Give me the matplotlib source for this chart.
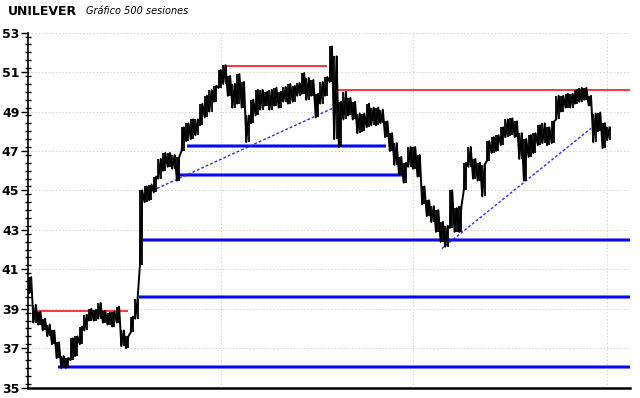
import numpy as np
import matplotlib
matplotlib.use("Agg")
import matplotlib.pyplot as plt
from matplotlib.ticker import MultipleLocator, FixedLocator, NullFormatter

# price samples, one every 4 sessions (low / high of the block)
step = 4
lows = [39.8, 38.3, 38.2, 37.9, 37.6, 37.2, 36.5, 36.0, 36.0, 36.4,
        36.6, 37.2, 37.9, 38.4, 38.4, 38.5, 38.3, 38.2, 38.1, 38.3,
        37.1, 37.0, 37.8, 38.5, 41.2, 44.4, 44.5, 44.9, 45.6, 46.0,
        46.2, 46.1, 45.5, 47.0, 47.5, 47.6, 47.8, 48.3, 48.7, 49.0,
        49.5, 50.2, 50.4, 49.8, 49.2, 49.4, 49.2, 47.45, 48.4, 48.8,
        49.1, 49.3, 49.1, 49.3, 49.2, 49.5, 49.4, 49.5, 49.8, 49.9,
        49.6, 49.8, 48.7, 49.4, 49.8, 50.5, 47.6, 47.2, 48.6, 48.8,
        48.6, 47.9, 48.0, 48.2, 48.3, 48.3, 48.4, 47.7, 47.0, 46.3,
        45.8, 45.4, 46.2, 46.1, 45.7, 44.3, 43.7, 43.4, 42.9, 42.4,
        42.15, 43.1, 42.9, 42.9, 45.0, 46.2, 45.6, 45.5, 44.7, 46.5,
        46.9, 47.0, 47.3, 47.7, 47.8, 47.7, 46.6, 45.5, 46.7, 46.9,
        47.3, 47.4, 47.3, 47.4, 48.6, 49.0, 49.2, 49.2, 49.4, 49.5,
        49.6, 49.3, 47.45, 48.0, 47.15, 47.55]
highs = [40.6, 39.2, 38.85, 38.5, 38.2, 37.9, 37.3, 36.6, 36.5, 37.5,
         37.6, 38.1, 38.7, 39.0, 38.95, 39.3, 38.9, 38.8, 38.85, 39.1,
         37.9, 37.6, 38.6, 39.5, 45.0, 45.2, 45.3, 45.7, 46.6, 46.9,
         46.9, 46.8, 46.7, 48.2, 48.4, 48.6, 48.6, 49.4, 49.8, 50.1,
         50.3, 51.1, 51.35, 50.8, 50.4, 50.9, 50.5, 48.8, 49.6, 50.1,
         50.1, 50.0, 50.1, 50.2, 50.0, 50.25, 50.4, 50.3, 50.45, 50.95,
         50.7, 50.6, 49.9, 50.5, 50.75, 52.3, 51.8, 49.5, 50.0, 49.7,
         49.5, 48.9, 48.9, 49.4, 49.2, 49.2, 49.1, 48.5, 47.9, 47.4,
         46.7, 46.4, 47.2, 47.2, 46.8, 45.2, 44.5, 44.2, 44.0, 43.4,
         43.2, 45.0, 44.1, 44.2, 46.4, 47.2, 46.6, 46.4, 46.3, 47.5,
         47.7, 47.8, 48.2, 48.6, 48.65, 48.5, 47.9, 47.6, 47.8, 47.9,
         48.3, 48.4, 48.2, 48.5, 49.8, 49.8, 49.9, 49.9, 50.1, 50.2,
         50.2, 49.8, 48.9, 48.95, 48.4, 48.2]

# support (blue) and resistance (red) levels: level, first session, last session
support_level = [47.25, 45.78, 42.49, 39.59, 36.05]
support_from = [137, 129, 95.5, 95, 25]
support_to = [309, 327, 519.5, 519.5, 519.5]
resist_level = [38.88, 51.3, 50.07]
resist_from = [3, 167, 267]
resist_to = [86, 258, 519.5]

# trend lines: (session, price) pairs
trend_x = [[107, 262.5], [357, 486]]
trend_y = [[45.0, 49.16], [42.05, 48.15]]

vgrid = [166.5, 332, 500]
yticks = list(range(35, 54, 2))

fig = plt.figure(figsize=(6.4, 3.98), dpi=100)
ax = fig.add_axes([0.0433, 0.026, 0.9407, 0.892])

sess = np.arange(len(lows)) * step
# zigzag low -> high inside each block
px = np.empty(2 * len(lows))
py = np.empty(2 * len(lows))
px[0::2] = sess
px[1::2] = sess + step / 2
py[0::2] = lows
py[1::2] = highs

for lv, a, b in zip(support_level, support_from, support_to):
    ax.hlines(lv, a, b, color="#5c5cff", lw=2.6, zorder=3)
    ax.hlines(lv, a, b, color="#0000ee", lw=1.3, zorder=3)
for lv, a, b in zip(resist_level, resist_from, resist_to):
    ax.hlines(lv, a, b, color="#ff0000", lw=1.1, zorder=3)
for tx, ty in zip(trend_x, trend_y):
    ax.plot(tx, ty, color="#2a2aff", lw=1.0, ls=(0, (2, 1.5)), zorder=3)

ax.plot(px, py, color="black", lw=1.4, zorder=4)
ax.vlines(sess, lows, highs, color="black", lw=1.3, zorder=4)
ax.vlines(sess + step / 2, lows, highs, color="black", lw=1.3, zorder=4)

ax.set_xlim(-1, 519.5)
ax.set_ylim(35, 53)
ax.yaxis.set_major_locator(FixedLocator(yticks))
ax.yaxis.set_minor_locator(MultipleLocator(0.4))
ax.xaxis.set_major_locator(FixedLocator(vgrid))
ax.xaxis.set_major_formatter(NullFormatter())
ax.tick_params(axis="x", length=0)
ax.tick_params(axis="y", which="major", direction="out", length=5, width=1,
               pad=1, labelsize=9)
ax.tick_params(axis="y", which="minor", direction="inout", length=4, width=1)
for lab in ax.get_yticklabels():
    lab.set_fontweight("bold")
ax.grid(True, color="#d2d2d2", lw=0.7, ls=(0, (1.5, 2)))
ax.set_axisbelow(True)

for s in ["top", "right"]:
    ax.spines[s].set_visible(False)
ax.spines["left"].set_linewidth(1.2)
ax.spines["bottom"].set_linewidth(1.8)

fig.text(0.013, 0.972, "UNILEVER", fontsize=9, fontweight="bold",
         va="center", ha="left")
fig.text(0.135, 0.972, "Gráfico 500 sesiones", fontsize=7, style="italic",
         va="center", ha="left")

fig.savefig("out.png", dpi=100)
